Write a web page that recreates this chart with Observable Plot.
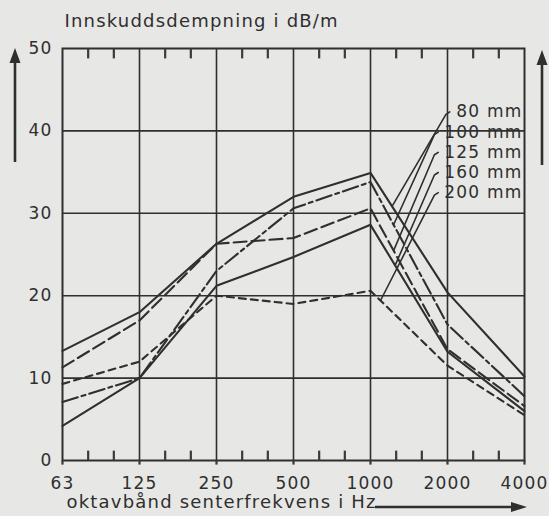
<!DOCTYPE html>
<html><head><meta charset="utf-8">
<script src="https://cdn.jsdelivr.net/npm/d3@7"></script>
<script src="https://cdn.jsdelivr.net/npm/@observablehq/plot@0.6"></script>
<style>
html,body{margin:0;padding:0;background:#e7e7e5;}
#chart svg text{letter-spacing:1.2px}
</style></head><body><div id="chart"></div>
<script>
// ---- data ----
const freqLabels = ["63","125","250","500","1000","2000","4000"];
const seriesNames = ["80 mm","100 mm","125 mm","160 mm","200 mm"];
const v80  = [13.3, 18.0, 26.3, 32.0, 34.9, 20.4, 10.2];
const v100 = [7.1, 10.0, 23.0, 30.6, 33.8, 16.5, 7.8];
const v125 = [11.3, 17.0, 26.3, 27.0, 30.6, 13.5, 6.6];
const v160 = [4.2, 10.0, 21.2, 24.7, 28.6, 13.2, 6.0];
const v200 = [9.3, 12.0, 20.0, 19.0, 20.6, 11.5, 5.5];
const yTicks = [0, 10, 20, 30, 40, 50];
const title = "Innskuddsdempning i dB/m";
const xTitle = "oktavbånd senterfrekvens i Hz";

// ---- build ----
const values = [v80, v100, v125, v160, v200];
const dashes = [null, "16,4,4,4", "13,5", null, "7,5"];
const ink = "#2f2f2f";
const idx = freqLabels.map((_, i) => i);
const minor = idx.slice(0, -1).flatMap(i => [i + 1/3, i + 2/3]);
const rows = values.map((vals, s) => vals.map((v, i) => ({s: seriesNames[s], i, v})));
const tickSegs = [
  ...minor.map(x => ({x, a: 0, b: 1.2})),
  ...minor.map(x => ({x, a: 50, b: 48.8})),
  ...idx.map(x => ({x, a: 0, b: -0.5}))
];

// legend leader lines (annotation)
const leaderT = [0.28, 0.30, 0.30, 0.32, 0.13];
const legend = seriesNames.map((name, s) => {
  const ly = 42.3 - 2.45 * s;
  const hx = s === 0 ? 5.03 : 4.88;
  const t = leaderT[s];
  const ey = values[s][4] + (values[s][5] - values[s][4]) * t;
  return {name, ly, pts: [
    {s: name, x: 4 + t, y: ey},
    {s: name, x: hx - 0.05, y: ly - 0.3},
    {s: name, x: hx, y: ly}
  ]};
});

const marks = [
  Plot.ruleY(yTicks.slice(1, -1), {stroke: ink, strokeWidth: 1.6}),
  Plot.ruleX(idx.slice(1, -1), {stroke: ink, strokeWidth: 1.6}),
  Plot.frame({stroke: ink, strokeWidth: 2}),
  Plot.link(tickSegs, {x1: "x", x2: "x", y1: "a", y2: "b", stroke: "#3a3a3a", strokeWidth: 2.2, ariaLabel: "minor-ticks"}),
  ...rows.map((r, s) => Plot.line(r, {x: "i", y: "v", stroke: ink, strokeWidth: 2.1,
      strokeDasharray: dashes[s] || undefined})),
  Plot.line(legend.flatMap(d => d.pts), {x: "x", y: "y", z: "s", stroke: ink, strokeWidth: 1.6}),
  Plot.text(legend, {x: () => 5.974, y: "ly", text: "name", textAnchor: "end",
      fontSize: 17, fill: ink}),
  Plot.axisX({ticks: idx, tickFormat: i => freqLabels[i], tickSize: 0, tickPadding: 16,
      fontSize: 17, label: null, color: ink}),
  Plot.axisY({ticks: yTicks, tickSize: 0, tickPadding: 10, fontSize: 17, label: null, color: ink}),
  Plot.text([title], {frameAnchor: "top-left", dx: 2, dy: -27, lineAnchor: "middle",
      textAnchor: "start", fontSize: 18, fill: ink}),
  Plot.text([xTitle], {frameAnchor: "bottom-left", dx: 4, dy: 42, lineAnchor: "middle",
      textAnchor: "start", fontSize: 18, fill: ink})
];

const chart = Plot.plot({
  width: 549, height: 516,
  marginLeft: 62, marginRight: 25, marginTop: 48, marginBottom: 56,
  x: {domain: [0, 6], axis: null},
  y: {domain: [0, 50], axis: null},
  style: {fontFamily: "DejaVu Sans", background: "#e7e7e5", color: ink, overflow: "visible"},
  marks
});
document.getElementById("chart").appendChild(chart);

// decorative arrows
const svg = d3.select(chart);
const g = svg.append("g").attr("fill", ink).attr("stroke", ink);
function arrow(x1, y1, x2, y2, head, half) {
  const dx = x2 - x1, dy = y2 - y1, L = Math.hypot(dx, dy), ux = dx / L, uy = dy / L;
  const bx = x2 - ux * head, by = y2 - uy * head;
  g.append("line").attr("x1", x1).attr("y1", y1).attr("x2", bx).attr("y2", by).attr("stroke-width", 2.6);
  g.append("path").attr("stroke", "none")
    .attr("d", `M${x2},${y2}L${bx - uy * half},${by + ux * half}L${bx + uy * half},${by - ux * half}Z`);
}
arrow(15, 162, 15, 48, 15, 5.5);
arrow(542, 165, 542, 50, 15, 5.5);
arrow(375, 507, 527, 507, 16, 5);
</script></body></html>
